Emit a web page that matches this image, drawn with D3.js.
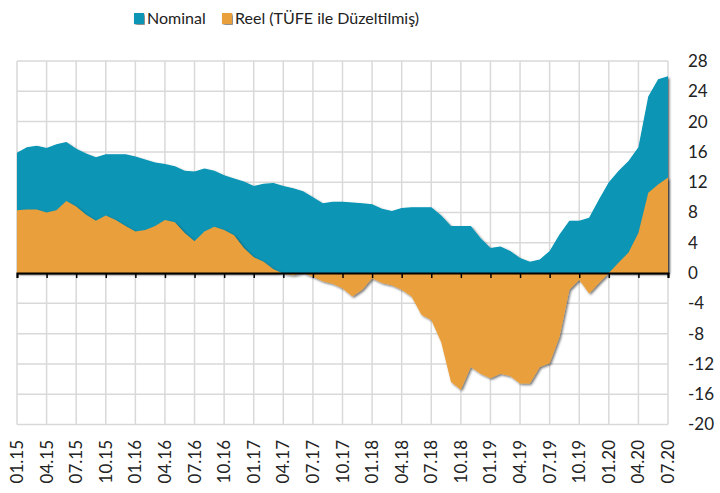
<!DOCTYPE html>
<html lang="tr">
<head>
<meta charset="utf-8">
<title>Nominal / Reel</title>
<script src="https://cdn.jsdelivr.net/npm/d3@7"></script>
<style>
  body { margin: 0; background: #fff; }
  text { font-family: Lato, "Open Sans", sans-serif; fill: #222; }
  .grid line { stroke: #d9d9d9; stroke-width: 1.5; }
</style>
</head>
<body>
<div id="box"></div>
<script>
// aylar (ay.yıl)
const months = [
  '01.15','02.15','03.15','04.15','05.15','06.15','07.15','08.15','09.15','10.15','11.15','12.15',
  '01.16','02.16','03.16','04.16','05.16','06.16','07.16','08.16','09.16','10.16','11.16','12.16',
  '01.17','02.17','03.17','04.17','05.17','06.17','07.17','08.17','09.17','10.17','11.17','12.17',
  '01.18','02.18','03.18','04.18','05.18','06.18','07.18','08.18','09.18','10.18','11.18','12.18',
  '01.19','02.19','03.19','04.19','05.19','06.19','07.19','08.19','09.19','10.19','11.19','12.19',
  '01.20','02.20','03.20','04.20','05.20','06.20','07.20'
]

const nominal = [
  15.9, 16.6, 16.8, 16.5, 17.0, 17.3, 16.4, 15.8, 15.3, 15.7, 15.7, 15.7,
  15.4, 15.0, 14.6, 14.4, 14.1, 13.5, 13.4, 13.8, 13.5, 12.9, 12.5, 12.1,
  11.5, 11.8, 11.9, 11.5, 11.2, 10.8, 10.0, 9.2, 9.4, 9.4, 9.3, 9.2,
  9.1, 8.5, 8.2, 8.6, 8.7, 8.7, 8.7, 7.6, 6.2, 6.2, 6.2, 4.6,
  3.3, 3.5, 2.9, 2.0, 1.5, 1.8, 2.9, 5.1, 6.9, 6.9, 7.3, 9.7,
  12.0, 13.5, 14.8, 16.6, 23.3, 25.6, 26.0
]

const reel = [
  8.3, 8.4, 8.4, 8.0, 8.3, 9.5, 8.8, 7.7, 6.9, 7.6, 7.0, 6.2,
  5.5, 5.7, 6.2, 7.0, 6.7, 5.3, 4.2, 5.5, 6.1, 5.7, 5.0, 3.3,
  2.1, 1.5, 0.5, -0.1, -0.3, 0.0, -0.5, -1.1, -1.4, -2.0, -3.1, -2.2,
  -0.7, -1.3, -1.6, -2.2, -3.1, -5.5, -6.2, -9.1, -14.4, -15.4, -12.4, -13.3,
  -13.9, -13.3, -13.6, -14.6, -14.6, -12.4, -11.9, -8.4, -2.2, -0.9, -2.7, -1.3,
  0.0, 1.4, 2.7, 5.3, 10.6, 11.7, 12.6
]

// eksen etiketleri
const xTicks = ['01.15','04.15','07.15','10.15','01.16','04.16','07.16','10.16','01.17','04.17','07.17','10.17',
  '01.18','04.18','07.18','10.18','01.19','04.19','07.19','10.19','01.20','04.20','07.20']
const yTicks = [-20, -16, -12, -8, -4, 0, 4, 8, 12, 16, 20, 24, 28]

const seriesNames = ['Nominal', 'Reel (TÜFE ile Düzeltilmiş)']
const colors = ['#0795b5', '#e99f3b']

const width = 720
const height = 493
const plot = { left: 17, right: 668, top: 61, bottom: 424.5 }

const xScale = d3.scalePoint().domain(months).range([plot.left, plot.right])
const yScale = d3.scaleLinear().domain([-20, 28]).range([plot.bottom, plot.top])

const svg = d3.select('#box').append('svg')
  .attr('width', width)
  .attr('height', height)

// gölge
const filter = svg.append('defs').append('filter')
  .attr('id', 'shadow')
  .attr('x', '-5%').attr('y', '-5%')
  .attr('width', '110%').attr('height', '110%')
filter.append('feDropShadow')
  .attr('dx', 1.5).attr('dy', 1.5)
  .attr('stdDeviation', 1.3)
  .attr('flood-color', '#000')
  .attr('flood-opacity', 0.55)

// ızgara
const grid = svg.append('g').attr('class', 'grid')
grid.selectAll('.h')
  .data(yTicks)
  .enter().append('line')
  .attr('x1', plot.left).attr('x2', plot.right)
  .attr('y1', d => yScale(d)).attr('y2', d => yScale(d))
grid.selectAll('.v')
  .data(xTicks)
  .enter().append('line')
  .attr('x1', d => xScale(d)).attr('x2', d => xScale(d))
  .attr('y1', plot.top).attr('y2', plot.bottom)

// alanlar
const area = values => d3.area()
  .x((d, i) => xScale(months[i]))
  .y0(yScale(0))
  .y1(d => yScale(d))(values)

svg.append('path')
  .attr('d', area(nominal))
  .attr('fill', colors[0])
  .attr('filter', 'url(#shadow)')

svg.append('path')
  .attr('d', area(reel))
  .attr('fill', colors[1])
  .attr('filter', 'url(#shadow)')

// x ekseni (sıfır çizgisi)
const xAxis = d3.axisBottom(xScale)
  .tickValues(xTicks)
  .tickSize(5)
  .tickFormat('')
const gx = svg.append('g')
  .attr('transform', `translate(0,${yScale(0)})`)
  .call(xAxis)
gx.select('.domain').attr('stroke', '#000').attr('stroke-width', 2)
gx.selectAll('.tick line').attr('stroke', '#000').attr('stroke-width', 1.5)

// x etiketleri
svg.selectAll('.xlab')
  .data(xTicks)
  .enter().append('text')
  .attr('class', 'xlab')
  .attr('transform', d => `translate(${xScale(d) + 6},440) rotate(-90)`)
  .attr('text-anchor', 'end')
  .style('font-size', '17px')
  .text(d => d)

// y etiketleri (sağ)
svg.selectAll('.ylab')
  .data(yTicks)
  .enter().append('text')
  .attr('class', 'ylab')
  .attr('x', 688)
  .attr('y', d => yScale(d))
  .attr('dy', '0.35em')
  .style('font-size', '17px')
  .text(d => d)

// lejant
const legendX = [134, 222]
const legend = svg.selectAll('.legend')
  .data(seriesNames)
  .enter().append('g')
  .attr('transform', (d, i) => `translate(${legendX[i]},13)`)
legend.append('rect')
  .attr('width', 10).attr('height', 11)
  .attr('fill', (d, i) => colors[i])
  .attr('filter', 'url(#shadow)')
legend.append('text')
  .attr('x', 13).attr('y', 11)
  .style('font-size', '16px')
  .text(d => d)
</script>
</body>
</html>
